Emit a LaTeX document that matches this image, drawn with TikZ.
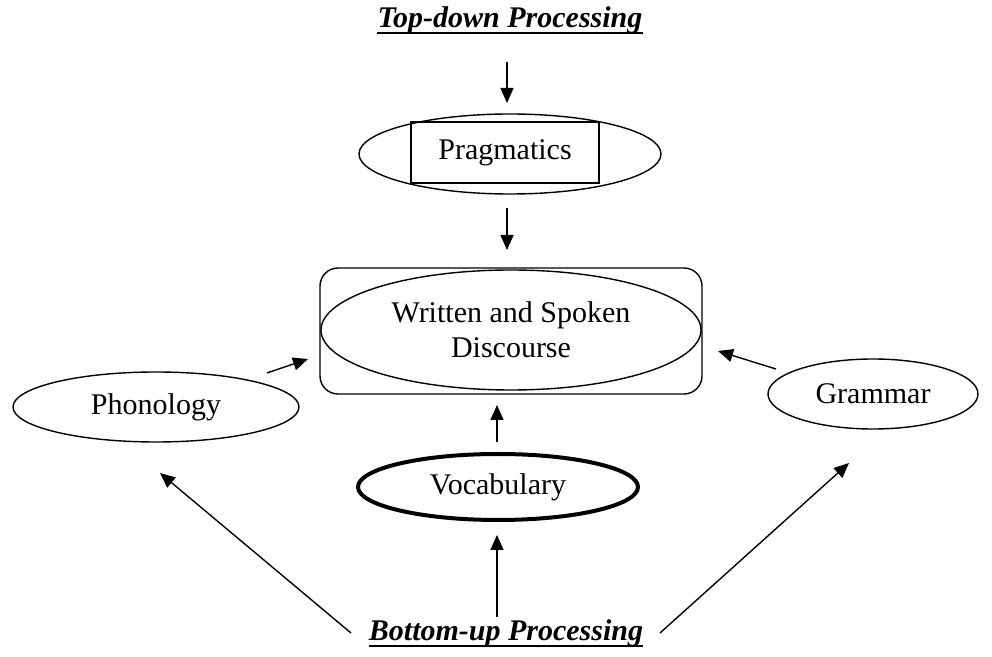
\documentclass[tikz,border=0pt]{standalone}
\usepackage{fontspec}
\setmainfont{Liberation Serif}
\usetikzlibrary{shapes.geometric,arrows.meta}
\begin{document}
\begin{tikzpicture}[x=0.5pt,y=-0.5pt,
  lbl/.style={font=\fontsize{15}{17.5}\selectfont},
  ttl/.style={font=\fontsize{15}{17.5}\selectfont\bfseries\itshape, inner sep=0pt, anchor=base},
  oval/.style={draw, ellipse, line width=0.7pt, inner sep=0pt, lbl},
  boxed/.style={draw, line width=0.7pt, inner sep=0pt, lbl},
  arr/.style={-{Triangle[length=7.5pt,width=6.5pt]}, line width=0.7pt},
  uline/.style={line width=1pt}]
\useasboundingbox (0,0) rectangle (992,657);
% titles
\node[ttl] (top) at (510,28) {Top-down Processing};
\draw[uline] ([yshift=-2.5pt]top.base west) -- ([yshift=-2.5pt]top.base east);
\node[ttl] (bot) at (506,641) {Bottom-up Processing};
\draw[uline] ([yshift=-2.5pt]bot.base west) -- ([yshift=-2.5pt]bot.base east);
% pragmatics
\node[oval, minimum width=151pt, minimum height=40pt] (pe) at (510,154) {};
\node[boxed, minimum width=94pt, minimum height=30.5pt] (prag) at (505,152.5) {Pragmatics};
% discourse
\node[boxed, rounded corners=9pt, minimum width=191pt, minimum height=63pt] (box) at (511,331) {};
\node[oval, minimum width=190pt, minimum height=60pt, align=center] (disc) at (511,330) {Written and Spoken\\Discourse};
% others
\node[oval, minimum width=143pt, minimum height=35pt] (phon) at (156,407) {Phonology};
\node[oval, minimum width=105pt, minimum height=35pt] (gram) at (873,394) {Grammar};
\node[oval, line width=2pt, minimum width=140pt, minimum height=33pt] (voc) at (498,487) {Vocabulary};
% arrow ends
\coordinate (a1s) at (507,62);  \coordinate (a1e) at (507,103);
\coordinate (a2s) at (507,208); \coordinate (a2e) at (507,250);
\coordinate (a3s) at (267,373); \coordinate (a3e) at (308,359);
\coordinate (a4s) at (776,369); \coordinate (a4e) at (718,351);
\coordinate (a5s) at (497,442); \coordinate (a5e) at (497,405);
\coordinate (a6s) at (497,617); \coordinate (a6e) at (497,535);
\coordinate (a7s) at (351,633); \coordinate (a7e) at (160,473);
\coordinate (a8s) at (660,633); \coordinate (a8e) at (849,463);
\draw[arr] (a1s) -- (a1e);
\draw[arr] (a2s) -- (a2e);
\draw[arr] (a3s) -- (a3e);
\draw[arr] (a4s) -- (a4e);
\draw[arr] (a5s) -- (a5e);
\draw[arr] (a6s) -- (a6e);
\draw[arr] (a7s) -- (a7e);
\draw[arr] (a8s) -- (a8e);
\end{tikzpicture}
\end{document}
